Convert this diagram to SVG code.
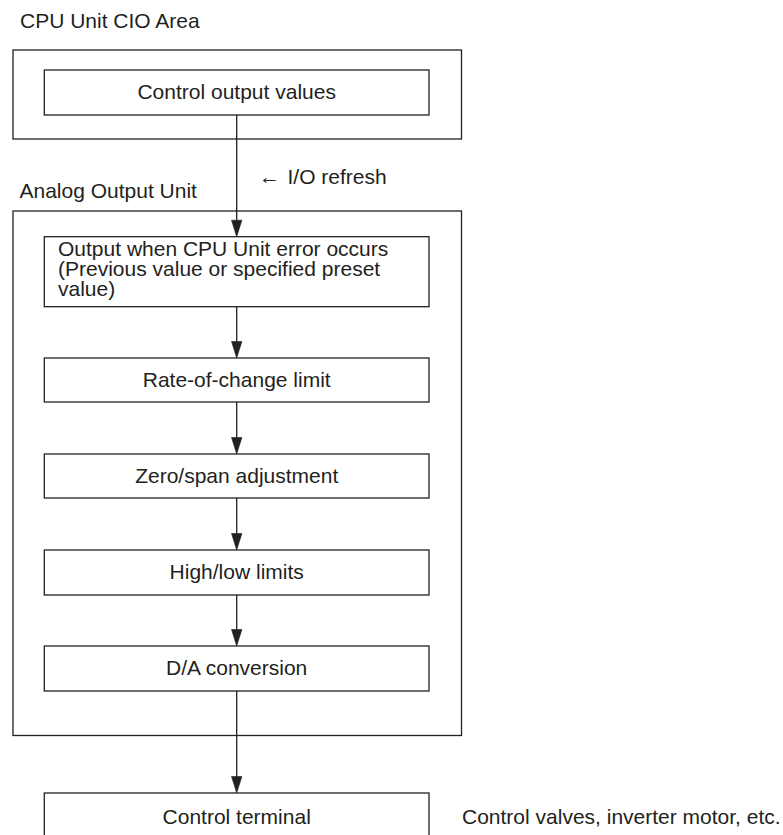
<svg xmlns="http://www.w3.org/2000/svg" width="783" height="835" viewBox="0 0 783 835">
  <style>
    text { font-family: "Liberation Sans", Arial, Helvetica, sans-serif; font-size: 21px; fill: #231f20; }
    .c { text-anchor: middle; }
    .box { fill: #ffffff; stroke: #231f20; stroke-width: 1.3; }
    .frame { fill: none; stroke: #231f20; stroke-width: 1.3; }
    .conn { stroke: #231f20; stroke-width: 1.3; fill: none; }
    .head { fill: #231f20; stroke: #231f20; stroke-width: 0.6; }
  </style>
  <defs>
    <polygon id="ah" class="head" points="-5.2,-16.5 5.2,-16.5 0,0"/>
  </defs>
  <rect width="783" height="835" fill="#ffffff"/>

  <g id="cpu-area">
    <text x="20" y="28">CPU Unit CIO Area</text>
    <rect class="frame" x="13" y="50" width="448.5" height="89"/>
  </g>
  <g id="analog-unit">
    <text x="19.5" y="198">Analog Output Unit</text>
    <rect class="frame" x="13" y="211" width="448.5" height="524.5"/>
  </g>

  <g id="control-output-values">
    <rect class="box" x="44.3" y="70" width="384.7" height="45"/>
    <text class="c" x="236.7" y="99">Control output values</text>
  </g>
  <g id="output-on-error">
    <rect class="box" x="44.3" y="236.7" width="384.7" height="70"/>
    <text x="58" y="256">Output when CPU Unit error occurs<tspan x="58" y="276">(Previous value or specified preset</tspan><tspan x="58" y="295.5">value)</tspan></text>
  </g>
  <g id="rate-limit">
    <rect class="box" x="44.3" y="358" width="384.7" height="44"/>
    <text class="c" x="236.7" y="386.5">Rate-of-change limit</text>
  </g>
  <g id="zero-span">
    <rect class="box" x="44.3" y="454" width="384.7" height="44"/>
    <text class="c" x="236.7" y="482.5">Zero/span adjustment</text>
  </g>
  <g id="high-low">
    <rect class="box" x="44.3" y="550" width="384.7" height="45"/>
    <text class="c" x="236.7" y="579">High/low limits</text>
  </g>
  <g id="da-conversion">
    <rect class="box" x="44.3" y="646" width="384.7" height="45"/>
    <text class="c" x="236.7" y="674.5">D/A conversion</text>
  </g>
  <g id="control-terminal">
    <rect class="box" x="44.3" y="793" width="384.7" height="50"/>
    <text class="c" x="236.7" y="824">Control terminal</text>
    <text x="462" y="824">Control valves, inverter motor, etc.</text>
  </g>

  <g id="connectors">
    <line class="conn" x1="236.7" y1="115" x2="236.7" y2="222"/>
    <use href="#ah" x="236.7" y="236.7"/>
    <line class="conn" x1="236.7" y1="306.7" x2="236.7" y2="343"/>
    <use href="#ah" x="236.7" y="358"/>
    <line class="conn" x1="236.7" y1="402" x2="236.7" y2="439"/>
    <use href="#ah" x="236.7" y="454"/>
    <line class="conn" x1="236.7" y1="498" x2="236.7" y2="535"/>
    <use href="#ah" x="236.7" y="550"/>
    <line class="conn" x1="236.7" y1="595" x2="236.7" y2="631"/>
    <use href="#ah" x="236.7" y="646"/>
    <line class="conn" x1="236.7" y1="691" x2="236.7" y2="778"/>
    <use href="#ah" x="236.7" y="793"/>
    <text x="259" y="184">←<tspan x="287.5">I/O refresh</tspan></text>
  </g>
</svg>
